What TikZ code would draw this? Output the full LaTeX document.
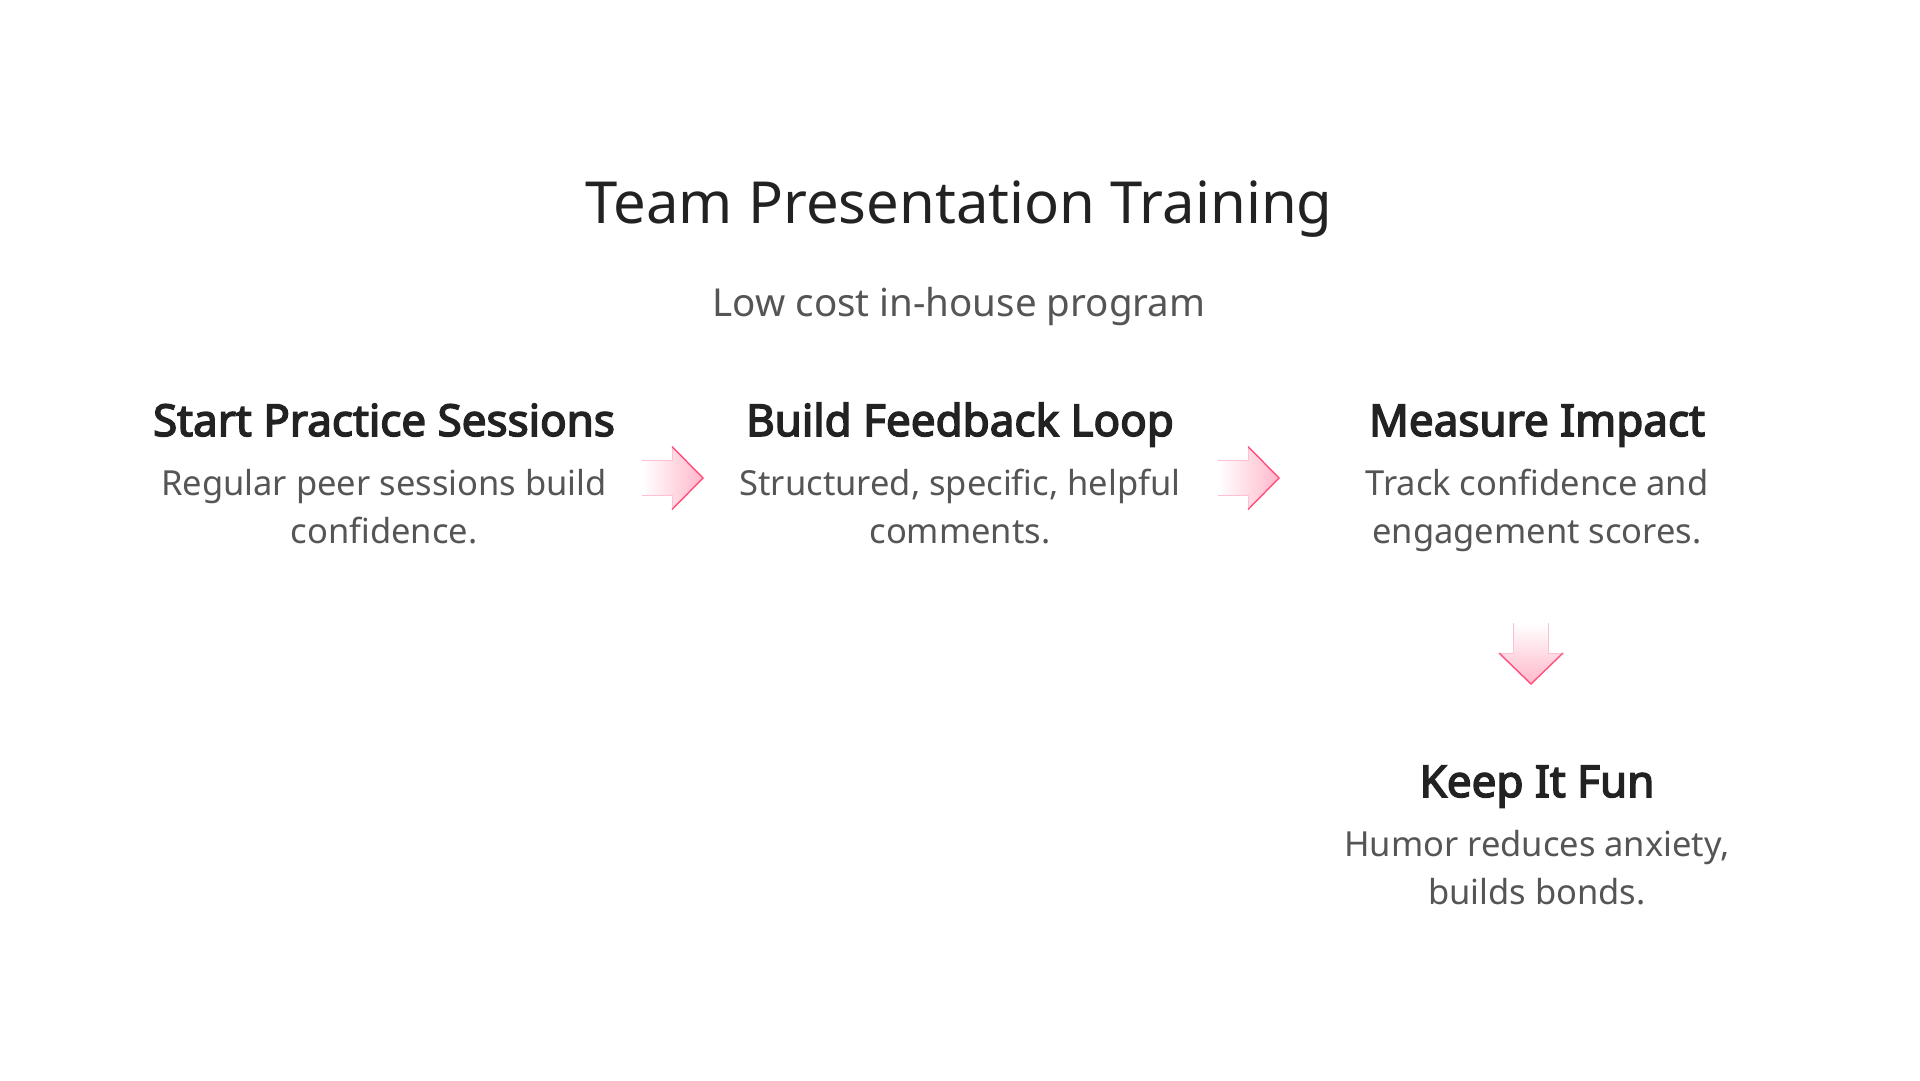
\documentclass[tikz,border=0pt]{standalone}
\usepackage{fontspec}
\setmainfont{Noto Sans}[BoldFont={Noto Sans}, BoldFeatures={FakeBold=3.4}]
\usepackage{tikz}
\usetikzlibrary{positioning,calc}

\definecolor{inkdark}{HTML}{222222}
\definecolor{inkgrey}{HTML}{555555}
\definecolor{pinkfill}{HTML}{FFB8CA}
\definecolor{pinkline}{HTML}{FF4F7B}

\begin{document}
\begin{tikzpicture}[x=1pt,y=-1pt,
        title/.style={font=\fontsize{58}{70}\selectfont, text=inkdark, inner sep=0pt},
        subtitle/.style={font=\fontsize{38.5}{46}\selectfont, text=inkgrey, inner sep=0pt},
        heading/.style={font=\bfseries\fontsize{44}{52}\selectfont, text=inkdark, inner sep=0pt},
        desc/.style={font=\fontsize{34.5}{48}\selectfont, text=inkgrey, align=center, inner sep=0pt},
        rightfill/.style={left color=white, right color=pinkfill, draw=none},
        downfill/.style={top color=white, bottom color=pinkfill, draw=none},
        headedge/.style={draw=pinkline, line width=1.4pt, line join=miter},
        shaftedge/.style={draw=pinkline!35, line width=1pt}]
        \useasboundingbox (0,0) rectangle (1920,1080);

        % heading block
        \node[title, anchor=base] (T) at (959,223) {Team Presentation Training};
        \node[subtitle, anchor=base] (ST) at (959,316) {Low cost in-house program};

        % steps
        \node[heading, anchor=base] (H1) at (384,436) {Start Practice Sessions};
        \node[heading, anchor=base] (H2) at (960,436) {Build Feedback Loop};
        \node[heading, anchor=base] (H3) at (1537,436) {Measure Impact};
        \node[heading, anchor=base] (H4) at (1537,797) {Keep It Fun};

        \node[desc, anchor=north] (D1) at ([yshift=-33pt]H1.base) {Regular peer sessions build\\confidence.};
        \node[desc, anchor=north] (D2) at ([yshift=-33pt]H2.base) {Structured, specific, helpful\\comments.};
        \node[desc, anchor=north] (D3) at ([yshift=-33pt]H3.base) {Track confidence and\\engagement scores.};
        \node[desc, anchor=north] (D4) at ([yshift=-33pt]H4.base) {Humor reduces anxiety,\\builds bonds.};

        % arrow tips
        \coordinate (A1) at (703,478);
        \coordinate (A2) at (1279,478);
        \coordinate (A3) at (1531,684);

        \foreach \a in {A1,A2} {
            \path[rightfill] (\a) -- ++(-31,-31.5) -- ++(0,14) -- ++(-30,0) -- ++(0,35) -- ++(30,0) -- ++(0,14) -- cycle;
            \draw[shaftedge] ($(\a)+(-61,-17.5)$) -- ++(30,0) -- ++(0,-14);
            \draw[shaftedge] ($(\a)+(-61,17.5)$) -- ++(30,0) -- ++(0,14);
            \draw[headedge] ($(\a)+(-31,-31.5)$) -- (\a) -- ++(-31,31.5);
        }

        \path[downfill] (A3) -- ++(-32,-31) -- ++(14,0) -- ++(0,-30) -- ++(35,0) -- ++(0,30) -- ++(14,0) -- cycle;
        \draw[shaftedge] ($(A3)+(-17.5,-61)$) -- ++(0,30) -- ++(-14.5,0);
        \draw[shaftedge] ($(A3)+(17.5,-61)$) -- ++(0,30) -- ++(14.5,0);
        \draw[headedge] ($(A3)+(-32,-31)$) -- (A3) -- ++(32,-31);
    \end{tikzpicture}
\end{document}
